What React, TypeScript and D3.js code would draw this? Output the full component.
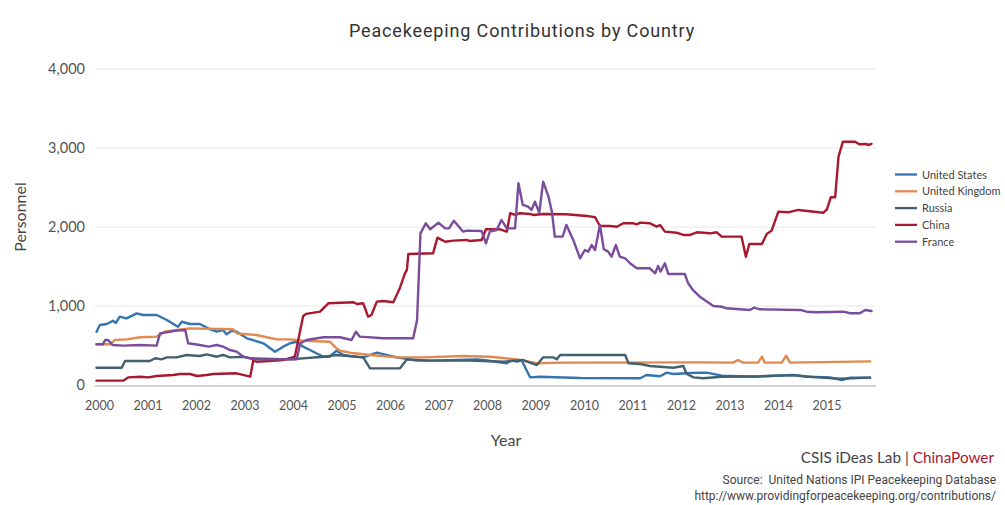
import React from "react";
import * as d3 from "d3";

const yTicks = [0, 1000, 2000, 3000, 4000];
const xTickYears = [2000, 2001, 2002, 2003, 2004, 2005, 2006, 2007, 2008, 2009, 2010, 2011, 2012, 2013, 2014, 2015];

const seriesNames = ["United States", "United Kingdom", "Russia", "China", "France"];
const seriesColors = ["#3474b0", "#e08a4f", "#42606f", "#a8182f", "#7a4d9c"];

const unitedStates: [number, number][] = [
  [2000.01, 675], [2000.08, 760], [2000.22, 772], [2000.35, 814], [2000.41, 785], [2000.49, 865],
  [2000.63, 844], [2000.84, 907], [2000.97, 886], [2001.25, 886], [2001.46, 823], [2001.69, 738],
  [2001.77, 801], [2001.94, 772], [2002.14, 772], [2002.35, 705], [2002.49, 675], [2002.62, 696],
  [2002.69, 641], [2002.8, 687], [2002.9, 675], [2003.11, 591], [2003.45, 528], [2003.69, 422],
  [2003.86, 485], [2004.0, 528], [2004.14, 548], [2004.27, 485], [2004.41, 443], [2004.69, 358],
  [2004.82, 358], [2004.96, 434], [2005.1, 380], [2005.24, 367], [2005.51, 350], [2005.79, 409],
  [2006.2, 350], [2006.61, 308], [2006.89, 308], [2007.85, 325], [2007.99, 316], [2008.47, 275],
  [2008.57, 316], [2008.67, 295], [2008.78, 308], [2008.95, 97], [2009.15, 105], [2009.98, 88],
  [2011.22, 85], [2011.35, 127], [2011.63, 110], [2011.77, 156], [2011.9, 139], [2012.18, 148],
  [2012.45, 156], [2012.59, 156], [2012.9, 118], [2013.55, 105], [2014.38, 127], [2014.65, 105],
  [2015.13, 97], [2015.38, 63], [2015.55, 93], [2015.96, 93],
];

const unitedKingdom: [number, number][] = [
  [2000.01, 515], [2000.29, 515], [2000.39, 570], [2000.63, 578], [2000.91, 604], [2001.25, 612],
  [2001.42, 675], [2001.66, 696], [2001.94, 717], [2002.83, 705], [2002.9, 654], [2003.31, 633],
  [2003.73, 578], [2004.0, 578], [2004.27, 561], [2004.82, 548], [2004.96, 464], [2005.03, 434],
  [2005.24, 409], [2005.65, 380], [2006.2, 350], [2006.75, 350], [2007.57, 367], [2008.12, 358],
  [2008.67, 325], [2009.09, 275], [2009.64, 283], [2009.84, 283], [2012.45, 287], [2013.13, 283],
  [2013.24, 316], [2013.34, 283], [2013.65, 283], [2013.73, 358], [2013.79, 283], [2014.14, 283],
  [2014.23, 371], [2014.31, 283], [2015.96, 299],
];

const russia: [number, number][] = [
  [2000.01, 219], [2000.53, 219], [2000.6, 304], [2001.11, 304], [2001.22, 338], [2001.35, 325],
  [2001.46, 350], [2001.66, 350], [2001.87, 380], [2002.14, 367], [2002.28, 388], [2002.49, 358],
  [2002.62, 380], [2002.76, 350], [2003.04, 358], [2003.18, 338], [2004.0, 325], [2004.69, 358],
  [2004.96, 380], [2005.51, 350], [2005.65, 211], [2006.27, 211], [2006.41, 325], [2006.89, 308],
  [2007.71, 308], [2008.4, 295], [2008.81, 316], [2009.09, 253], [2009.22, 350], [2009.43, 350],
  [2009.5, 325], [2009.57, 380], [2010.91, 380], [2010.98, 275], [2011.22, 266], [2011.42, 240],
  [2011.9, 219], [2012.11, 240], [2012.18, 139], [2012.32, 97], [2012.52, 85], [2012.9, 105],
  [2013.69, 110], [2014.37, 125], [2014.82, 100], [2015.34, 80], [2015.96, 93],
];

const china: [number, number][] = [
  [2000.01, 55], [2000.56, 55], [2000.67, 97], [2000.91, 105], [2001.08, 97], [2001.25, 114],
  [2001.59, 127], [2001.73, 139], [2001.94, 139], [2002.08, 114], [2002.28, 127], [2002.42, 139],
  [2002.9, 148], [2003.18, 105], [2003.24, 308], [2003.31, 295], [2003.73, 308], [2003.86, 316],
  [2004.1, 358], [2004.17, 570], [2004.27, 870], [2004.33, 900], [2004.62, 928], [2004.79, 1034],
  [2005.31, 1047], [2005.38, 1025], [2005.51, 1034], [2005.61, 865], [2005.68, 886], [2005.79, 1055],
  [2005.92, 1063], [2006.13, 1047], [2006.27, 1235], [2006.37, 1414], [2006.41, 1456], [2006.44, 1658],
  [2006.95, 1667], [2007.04, 1865], [2007.2, 1814], [2007.37, 1827], [2007.64, 1836], [2007.71, 1823],
  [2007.95, 1836], [2008.04, 1971], [2008.33, 1971], [2008.47, 1941], [2008.54, 2174], [2008.64, 2152],
  [2008.74, 2174], [2008.95, 2165], [2009.02, 2152], [2009.22, 2165], [2009.7, 2161], [2010.12, 2140],
  [2010.29, 2123], [2010.39, 2013], [2010.6, 2013], [2010.74, 2004], [2010.87, 2047], [2011.08, 2047],
  [2011.15, 2034], [2011.22, 2055], [2011.42, 2047], [2011.56, 2004], [2011.63, 2026], [2011.73, 1941],
  [2011.97, 1928], [2012.11, 1899], [2012.25, 1899], [2012.39, 1933], [2012.66, 1920], [2012.8, 1933],
  [2012.9, 1878], [2013.31, 1878], [2013.4, 1624], [2013.47, 1785], [2013.73, 1785], [2013.83, 1912],
  [2013.93, 1954], [2014.07, 2194], [2014.27, 2186], [2014.48, 2216], [2015.0, 2181], [2015.07, 2224],
  [2015.15, 2376], [2015.24, 2376], [2015.31, 2890], [2015.4, 3080], [2015.65, 3080], [2015.74, 3047],
  [2015.89, 3051], [2015.92, 3038], [2015.99, 3051],
];

const france: [number, number][] = [
  [2000.01, 515], [2000.14, 515], [2000.19, 570], [2000.25, 570], [2000.34, 506], [2000.56, 498],
  [2000.91, 506], [2001.25, 498], [2001.32, 654], [2001.46, 667], [2001.66, 688], [2001.84, 696],
  [2001.9, 528], [2002.14, 506], [2002.32, 485], [2002.49, 506], [2002.62, 485], [2002.76, 443],
  [2002.9, 422], [2003.04, 358], [2003.18, 338], [2003.31, 325], [2004.14, 325], [2004.21, 528],
  [2004.34, 570], [2004.69, 604], [2005.03, 604], [2005.27, 570], [2005.36, 675], [2005.44, 612],
  [2005.92, 591], [2006.54, 591], [2006.62, 823], [2006.69, 1920], [2006.8, 2047], [2006.89, 1971],
  [2007.06, 2055], [2007.2, 1983], [2007.28, 1983], [2007.38, 2080], [2007.57, 1941], [2007.64, 1954],
  [2007.95, 1950], [2008.04, 1794], [2008.12, 1941], [2008.26, 1962], [2008.36, 2089], [2008.47, 1983],
  [2008.64, 1983], [2008.71, 2553], [2008.8, 2279], [2008.91, 2257], [2008.98, 2216], [2009.05, 2320],
  [2009.14, 2181], [2009.22, 2574], [2009.33, 2384], [2009.4, 2194], [2009.46, 1878], [2009.62, 1878],
  [2009.7, 2026], [2009.84, 1836], [2009.98, 1604], [2010.08, 1709], [2010.15, 1688], [2010.22, 1772],
  [2010.29, 1709], [2010.39, 2026], [2010.47, 1718], [2010.56, 1688], [2010.63, 1624], [2010.72, 1772],
  [2010.8, 1624], [2010.91, 1604], [2011.01, 1541], [2011.15, 1477], [2011.42, 1477], [2011.53, 1414],
  [2011.59, 1507], [2011.64, 1435], [2011.73, 1541], [2011.8, 1405], [2012.14, 1405], [2012.21, 1287],
  [2012.32, 1194], [2012.45, 1118], [2012.73, 1000], [2012.9, 991], [2013.0, 971], [2013.48, 950],
  [2013.57, 979], [2013.69, 958], [2014.52, 950], [2014.65, 928], [2014.86, 920], [2015.41, 928],
  [2015.55, 908], [2015.75, 908], [2015.86, 950], [2015.99, 937],
];

const seriesData = [unitedStates, unitedKingdom, russia, china, france];

const W = 1005;
const H = 505;
const plotLeft = 96;
const plotRight = 872;
const plotTop = 69;
const plotBottom = 385;

export default function App() {
  const x = d3.scaleLinear().domain([2000, 2016]).range([plotLeft, plotRight]);
  const y = d3.scaleLinear().domain([0, 4000]).range([plotBottom, plotTop]);
  const line = d3
    .line<[number, number]>()
    .x((d) => x(d[0]))
    .y((d) => y(d[1]));
  const fmt = d3.format(",");

  return (
    <svg
      width={W}
      height={H}
      style={{ position: "absolute", left: 0, top: 0, background: "#fff" }}
    >
      <rect x={0} y={0} width={W} height={H} fill="#fff" />
      <text
        x={522}
        y={37}
        textAnchor="middle"
        fontFamily="Roboto"
        fontSize={18}
        letterSpacing={0.85}
        fill="#333"
      >
        Peacekeeping Contributions by Country
      </text>

      {yTicks.map((t) => (
        <g key={t}>
          {t > 0 && (
            <line x1={95} x2={876} y1={y(t)} y2={y(t)} stroke="#e6e6e6" strokeWidth={1} />
          )}
          <text
            x={85}
            y={y(t) + 5}
            textAnchor="end"
            fontFamily="Lato"
            fontSize={14.5}
            fill="#555"
          >
            {fmt(t)}
          </text>
        </g>
      ))}
      <line x1={95} x2={876} y1={plotBottom + 1} y2={plotBottom + 1} stroke="#d2d2d2" strokeWidth={2} />

      {xTickYears.map((t) => (
        <text
          key={t}
          x={x(t + 0.07)}
          y={410}
          textAnchor="middle"
          fontFamily="Lato"
          fontSize={12.5}
          fill="#555"
        >
          {t}
        </text>
      ))}

      <text
        x={506}
        y={446}
        textAnchor="middle"
        fontFamily="Lato"
        fontSize={16}
        fill="#444"
      >
        Year
      </text>
      <text
        transform={`translate(26,${217}) rotate(-90)`}
        textAnchor="middle"
        fontFamily="Lato"
        fontSize={16}
        fill="#444"
      >
        Personnel
      </text>

      {seriesData.map((data, i) => (
        <path
          key={seriesNames[i]}
          d={line(data) || ""}
          fill="none"
          stroke={seriesColors[i]}
          strokeWidth={2.4}
          strokeLinejoin="round"
          strokeLinecap="round"
        />
      ))}

      {seriesNames.map((name, i) => {
        const ly = 174.5 + i * 16.8;
        return (
          <g key={name}>
            <line x1={895} x2={917} y1={ly} y2={ly} stroke={seriesColors[i]} strokeWidth={2.3} />
            <text x={922} y={ly + 4} fontFamily="Lato" fontSize={11} fill="#444">
              {name}
            </text>
          </g>
        );
      })}

      <text x={994} y={463} textAnchor="end" fontFamily="Lato" fontSize={15.3} fill="#444">
        CSIS iDeas Lab |{" "}
        <tspan fill="#a8182f">ChinaPower</tspan>
      </text>
      <text
        x={996}
        y={484}
        textAnchor="end"
        fontFamily="Roboto"
        fontSize={12}
        fill="#444"
        style={{ whiteSpace: "pre" }}
      >
        {"Source:  United Nations IPI Peacekeeping Database"}
      </text>
      <text x={996} y={500} textAnchor="end" fontFamily="Roboto" fontSize={12} fill="#444">
        http://www.providingforpeacekeeping.org/contributions/
      </text>
    </svg>
  );
}
